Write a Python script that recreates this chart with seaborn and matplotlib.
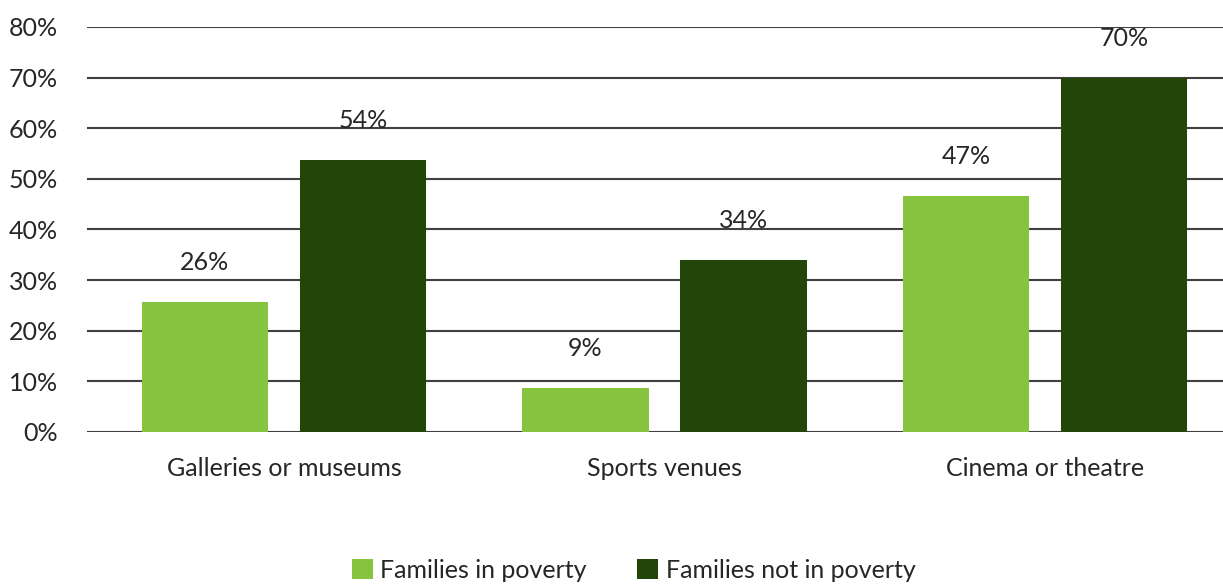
import matplotlib
matplotlib.use("Agg")
import matplotlib.pyplot as plt
import pandas as pd
import seaborn as sns

categories = ["Galleries or museums", "Sports venues", "Cinema or theatre"]
groups = ["Families in poverty", "Families not in poverty"]
in_poverty = [25.7, 8.7, 46.6]
not_in_poverty = [53.8, 34.0, 70.0]
colors = ["#86C440", "#224508"]

df = pd.DataFrame({
    "venue": categories * 2,
    "group": [groups[0]] * 3 + [groups[1]] * 3,
    "pct": in_poverty + not_in_poverty,
})

sns.set_theme(style="white")
plt.rcParams["font.family"] = ["Lato", "DejaVu Sans"]
text_col = "#262626"
fs = 18

fig = plt.figure(figsize=(12.23, 5.86), dpi=100)
ax = fig.add_axes([0.071, 0.263, 0.929, 0.691])

sns.barplot(data=df, x="venue", y="pct", hue="group", order=categories,
            hue_order=groups, palette=colors, width=0.83, gap=0.2,
            saturation=1, linewidth=0, ax=ax, legend=True, zorder=3)

ax.set_ylim(0, 80)
ax.set_xlim(-0.518, 2.468)
ax.set_yticks(range(0, 81, 10))
ax.set_yticklabels([f"{v}%" for v in range(0, 81, 10)])
ax.yaxis.grid(True, color="#404040", linewidth=1.5, zorder=0)
ax.set_axisbelow(True)
for s in ax.spines.values():
    s.set_visible(False)
ax.tick_params(axis="y", length=0, pad=21, labelsize=fs, labelcolor=text_col)
ax.tick_params(axis="x", length=0, pad=18, labelsize=fs, labelcolor=text_col)
ax.set_xlabel("")
ax.set_ylabel("")

for cont in ax.containers:
    for bar in cont:
        h = bar.get_height()
        ax.text(bar.get_x() + bar.get_width() / 2, h + 7.8, f"{round(h)}%",
                ha="center", va="center", fontsize=fs, color=text_col)

handles, labels = ax.get_legend_handles_labels()
ax.legend_.remove()
fig.legend(handles, labels, loc="center", bbox_to_anchor=(0.518, 0.027),
           ncol=2, frameon=False, fontsize=fs, handlelength=0.85,
           handleheight=0.85, handletextpad=0.3, columnspacing=2.0,
           labelcolor=text_col)

fig.savefig("out.png", dpi=100)
